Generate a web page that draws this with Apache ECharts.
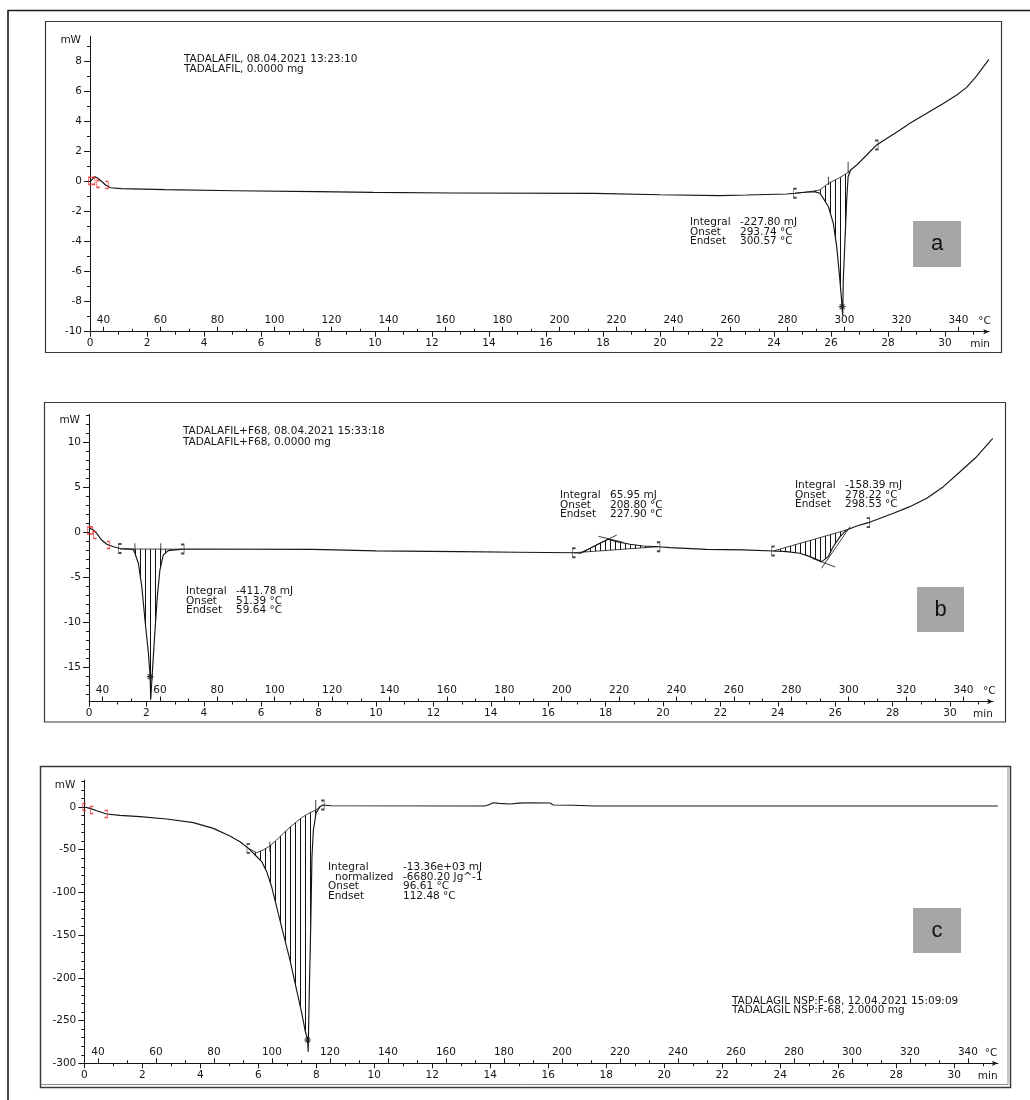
<!DOCTYPE html>
<html>
<head>
<meta charset="utf-8">
<script src="https://cdn.jsdelivr.net/npm/echarts@6/dist/echarts.min.js"></script>
<style>
  html, body { margin: 0; padding: 0; background: #fff; }
  #chart { width: 1030px; height: 1100px; }
</style>
</head>
<body>
<div id="chart"></div>
<script>
// DSC thermograms: heat flow (mW) against time (min); the upper scale gives the furnace temperature.
const T_START = 35.3;   // °C at t = 0 min
const RATE = 10;        // heating rate, K/min

// Tick labels
const timeTickLabels = [0, 2, 4, 6, 8, 10, 12, 14, 16, 18, 20, 22, 24, 26, 28, 30];
const tempTickLabels = [40, 60, 80, 100, 120, 140, 160, 180, 200, 220, 240, 260, 280, 300, 320, 340];
const aPowerTicks = [-10, -8, -6, -4, -2, 0, 2, 4, 6, 8];
const bPowerTicks = [-15, -10, -5, 0, 5, 10];
const cPowerTicks = [-300, -250, -200, -150, -100, -50, 0];

// (a) TADALAFIL — [time min, heat flow mW]
const aCurve = [
  [0, 0], [0.08, 0.15], [0.18, 0.33], [0.3, 0.2], [0.45, -0.05], [0.55, -0.22], [0.72, -0.4],
  [1.1, -0.46], [1.11, -0.5], [2.63, -0.53], [2.64, -0.58], [5.08, -0.6], [5.1, -0.63],
  [7.94, -0.66], [7.96, -0.7], [9.93, -0.71], [9.95, -0.74], [12.68, -0.75], [12.7, -0.78],
  [17.7, -0.78], [17.72, -0.84], [20.0, -0.87], [22.1, -0.93], [23.04, -0.89], [24.44, -0.82],
  [24.74, -0.77], [25.26, -0.67], [25.45, -0.68], [25.61, -0.77], [25.73, -1.11], [25.91, -1.67],
  [26.08, -2.78], [26.2, -4.33], [26.29, -6.11], [26.37, -7.89], [26.41, -8.9], [26.43, -6.55],
  [26.49, -3.89], [26.55, -1.22], [26.6, 0.33], [26.69, 0.78], [26.9, 1.11], [27.25, 1.78],
  [27.6, 2.45], [28.42, 3.45], [28.77, 3.89], [29.36, 4.56], [29.94, 5.22], [30.41, 5.78],
  [30.76, 6.29], [31.11, 7.05], [31.54, 8.16]
];
const aBaseline = [[24.74, -0.77], [25.26, -0.67], [25.61, -0.55], [25.91, -0.11], [26.26, 0.22], [26.55, 0.56], [26.69, 0.78]];
const aRegions = [[24.74, 26.69]];
const aTangents = [[[25.91, 0.33], [25.91, -0.22]], [[26.6, 1.33], [26.6, 0.56]]];
const aOpen = [[24.74, -0.77]];
const aClose = [[27.6, 2.45]];
const aPeaks = [[26.39, -8.33]];
const aStartOpen = [[0, 0.05], [0.29, -0.15]];
const aStartClose = [[0.12, 0.05], [0.59, -0.22]];

// (b) TADALAFIL+F68
const bCurve = [
  [0, 0.2], [0.04, 0.44], [0.15, 0.26], [0.27, -0.11], [0.44, -0.86], [0.62, -1.33], [0.85, -1.6],
  [1.08, -1.8], [1.54, -1.89], [1.6, -2.33], [1.72, -3.44], [1.84, -6.04], [1.95, -9.74],
  [2.07, -13.4], [2.13, -16.04], [2.15, -18.6], [2.22, -14.9], [2.3, -10.86], [2.38, -7.16],
  [2.47, -4.19], [2.59, -2.52], [2.76, -2.04], [3.17, -1.89], [3.26, -1.86], [7.8, -1.9],
  [7.82, -1.98], [10.0, -2.06], [10.05, -2.1], [12.9, -2.15], [12.95, -2.22], [14.96, -2.22],
  [16.9, -2.27], [17.11, -2.33], [17.46, -1.78], [17.8, -1.22], [18.09, -0.78], [18.39, -1.04],
  [18.85, -1.33], [19.31, -1.52], [19.84, -1.6], [20.24, -1.7], [21.52, -1.89], [22.8, -1.96],
  [23.84, -2.08], [24.31, -2.15], [24.77, -2.33], [25.12, -2.7], [25.53, -3.26], [25.76, -2.7],
  [25.93, -1.6], [26.17, -0.48], [26.4, 0.26], [26.75, 0.7], [27.15, 1.07], [28.03, 2.11],
  [28.6, 2.85], [29.19, 3.78], [29.77, 5.07], [30.35, 6.73], [30.93, 8.4], [31.49, 10.44]
];
const bBaselines = [
  [[1.08, -1.85], [3.26, -1.88]],
  [[16.9, -2.27], [19.84, -1.6]],
  [[23.84, -2.08], [26.4, 0.26]]
];
const bRegions = [[1.08, 3.26], [16.9, 19.84], [23.84, 26.4]];
const bTangents = [
  [[1.6, -1.22], [1.6, -2.33]], [[2.5, -1.22], [2.5, -2.33]],
  [[17.11, -2.33], [18.39, -0.3]], [[17.75, -0.45], [18.6, -1.1]],
  [[25.52, -4.0], [26.52, 0.63]], [[25.2, -2.9], [26.0, -3.85]]
];
const bOpen = [[1.08, -1.8], [16.9, -2.27], [23.84, -2.08]];
const bClose = [[3.26, -1.86], [19.84, -1.6], [27.15, 1.07]];
const bPeaks = [[2.13, -16.04]];
const bStartOpen = [[0, 0.2], [0.21, -0.3]];
const bStartClose = [[0.08, 0.2], [0.67, -1.41]];

// (c) TADALAGIL NSP:F-68
const cCurve = [
  [0, 0], [0.2, -1.6], [0.43, -4.3], [0.77, -8.2], [1.23, -9.8], [1.92, -11.3], [2.84, -14],
  [3.76, -18.3], [4.45, -25], [5.02, -34], [5.37, -40.6], [5.66, -48.4], [5.89, -56.2],
  [6.12, -64], [6.29, -75.7], [6.46, -93.3], [6.63, -116.7], [6.86, -147.8], [7.09, -179],
  [7.32, -214], [7.5, -241.5], [7.61, -261], [7.7, -272.7], [7.72, -286.4], [7.76, -214],
  [7.81, -136], [7.85, -58], [7.9, -27], [7.99, -7.4], [8.13, 0.4], [8.22, 2.3], [8.5, 1.5],
  [13.8, 1.2], [13.93, 2.3], [14.1, 5], [14.3, 4.3], [14.68, 3.5], [15.0, 4.5], [15.37, 5],
  [16.06, 4.7], [16.17, 2.3], [16.86, 2], [17.61, 1.2], [31.5, 1.2]
];
const cBaseline = [
  [5.66, -48.4], [5.94, -53.5], [6.17, -50.3], [6.4, -45.6], [6.63, -38.6], [6.86, -30.8],
  [7.09, -23.8], [7.32, -17.2], [7.55, -11.3], [7.78, -6.6], [7.99, -3.5], [8.13, 0.4]
];
const cRegions = [[5.66, 8.13]];
const cTangents = [[[6.4, -40.6], [6.4, -52.3]], [[7.98, 8.2], [7.98, -7.4]]];
const cOpen = [[5.66, -48.4]];
const cClose = [[8.22, 2.3]];
const cPeaks = [[7.7, -272.7]];
const cStartOpen = [[0, 0], [0.26, -3.5]];
const cStartClose = [[0.75, -8.2]];

// ---------------------------------------------------------------------------
const FONT = '"DejaVu Sans", Verdana, sans-serif';
const FS = 10.5;
const INK = '#161616';
const RED = '#e3211c';

function steps(a, b, step, skip) {
  const out = [];
  for (let v = a; v <= b + 1e-9; v += step) {
    const r = Math.round(v * 100) / 100;
    if (!skip || !skip(r)) out.push(r);
  }
  return out;
}
const timeMinor = steps(1, 31, 2);
const tempMinor = steps(50, 330, 20);

// vertical hatching used inside the integrated peak areas
const hatchCanvas = document.createElement('canvas');
hatchCanvas.width = 5; hatchCanvas.height = 4;
(function () {
  const g = hatchCanvas.getContext('2d');
  g.fillStyle = '#111';
  g.fillRect(0, 0, 1, 4);
})();
const HATCH = { image: hatchCanvas, repeat: 'repeat' };

const panels = [
  {
    layout: { left: 90, top: 36.2, width: 899.2, height: 295.5, tMax: 31.55, yMin: -10, yMax: 9.7,
              minGap: -19, degGap: -11, mwGap: -4 },
    curve: aCurve, baselines: [aBaseline], regions: aRegions.map(r => [r[0], r[1], aBaseline]),
    tangents: aTangents, open: aOpen, close: aClose, peaks: aPeaks,
    startOpen: aStartOpen, startClose: aStartClose,
    powerTicks: aPowerTicks, powerMinor: steps(-9, 9, 2)
  },
  {
    layout: { left: 89, top: 414.4, width: 904.05, height: 287.1, tMax: 31.5, yMin: -18.8, yMax: 13.1,
              minGap: -20, degGap: -10, mwGap: -5.6 },
    curve: bCurve, baselines: bBaselines, regions: bRegions.map((r, k) => [r[0], r[1], bBaselines[k]]),
    tangents: bTangents, open: bOpen, close: bClose, peaks: bPeaks,
    startOpen: bStartOpen, startClose: bStartClose,
    powerTicks: bPowerTicks, powerMinor: steps(-18, 13, 1, v => v % 5 === 0)
  },
  {
    layout: { left: 84.3, top: 780, width: 913.5, height: 283.3, tMax: 31.5, yMin: -300, yMax: 31.6,
              minGap: -20, degGap: -13, mwGap: -5 },
    curve: cCurve, baselines: [cBaseline], regions: cRegions.map(r => [r[0], r[1], cBaseline]),
    tangents: cTangents, open: cOpen, close: cClose, peaks: cPeaks,
    startOpen: cStartOpen, startClose: cStartClose,
    powerTicks: cPowerTicks, powerMinor: steps(-290, 30, 10, v => v % 50 === 0)
  }
];

const labelStyle = { color: INK, fontSize: FS, fontFamily: FONT };
const OPEN_SYM = 'path://M4,0 L0,0 L0,12 L4,12';
const CLOSE_SYM = 'path://M0,0 L4,0 L4,12 L0,12';
const STAR_SYM = 'path://M0,5 L10,5 M5,0 L5,10 M1.5,1.5 L8.5,8.5 M8.5,1.5 L1.5,8.5';

const grid = [], xAxis = [], yAxis = [], series = [];

panels.forEach((p, i) => {
  const L = p.layout;
  grid.push({ left: L.left, top: L.top, width: L.width, height: L.height, containLabel: false });

  const xi = xAxis.length, yi = yAxis.length;
  const noSplit = { show: false };
  // time (min) – major ticks with labels
  xAxis.push({
    gridIndex: i, type: 'value', min: 0, max: L.tMax, position: 'bottom',
    axisLine: { show: true, onZero: false, lineStyle: { color: INK, width: 1 },
                symbol: ['none', 'arrow'], symbolSize: [4, 6] },
    axisTick: { show: true, length: 5, customValues: timeTickLabels, lineStyle: { color: INK } },
    axisLabel: Object.assign({ show: true, margin: 6, customValues: timeTickLabels }, labelStyle),
    splitLine: noSplit,
    name: 'min', nameLocation: 'end', nameGap: L.minGap,
    nameTextStyle: Object.assign({ align: 'left', verticalAlign: 'top', padding: [7, 0, 0, 0] }, labelStyle)
  });
  // time – minor ticks
  xAxis.push({
    gridIndex: i, type: 'value', min: 0, max: L.tMax, position: 'bottom',
    axisLine: { show: false, onZero: false },
    axisTick: { show: true, length: 3, customValues: timeMinor, lineStyle: { color: INK } },
    axisLabel: { show: false }, splitLine: noSplit
  });
  // temperature (°C) – major ticks with labels, drawn above the axis line
  xAxis.push({
    gridIndex: i, type: 'value', min: T_START, max: T_START + RATE * L.tMax, position: 'bottom',
    axisLine: { show: false, onZero: false },
    axisTick: { show: true, inside: true, length: 5, customValues: tempTickLabels, lineStyle: { color: INK } },
    axisLabel: Object.assign({ show: true, inside: true, margin: 6, customValues: tempTickLabels }, labelStyle),
    splitLine: noSplit,
    name: '°C', nameLocation: 'end', nameGap: L.degGap,
    nameTextStyle: Object.assign({ align: 'left', verticalAlign: 'bottom', padding: [0, 0, 5, 0] }, labelStyle)
  });
  // temperature – minor ticks
  xAxis.push({
    gridIndex: i, type: 'value', min: T_START, max: T_START + RATE * L.tMax, position: 'bottom',
    axisLine: { show: false, onZero: false },
    axisTick: { show: true, inside: true, length: 3, customValues: tempMinor, lineStyle: { color: INK } },
    axisLabel: { show: false }, splitLine: noSplit
  });
  // heat flow (mW)
  yAxis.push({
    gridIndex: i, type: 'value', min: L.yMin, max: L.yMax, position: 'left',
    axisLine: { show: true, onZero: false, lineStyle: { color: INK, width: 1 } },
    axisTick: { show: true, length: 6, customValues: p.powerTicks, lineStyle: { color: INK } },
    axisLabel: Object.assign({ show: true, margin: 8, customValues: p.powerTicks }, labelStyle),
    splitLine: noSplit,
    name: 'mW', nameLocation: 'end', nameGap: L.mwGap,
    nameTextStyle: Object.assign({ align: 'right', verticalAlign: 'middle', padding: [0, 9, 0, 0] }, labelStyle)
  });
  yAxis.push({
    gridIndex: i, type: 'value', min: L.yMin, max: L.yMax, position: 'left',
    axisLine: { show: false, onZero: false },
    axisTick: { show: true, length: 3, customValues: p.powerMinor, lineStyle: { color: INK } },
    axisLabel: { show: false }, splitLine: noSplit
  });

  const on = { xAxisIndex: xi, yAxisIndex: yi };

  // hatched integration areas between the signal and its baseline
  p.regions.forEach(([from, to, base]) => {
    const poly = p.curve.filter(pt => pt[0] >= from - 1e-9 && pt[0] <= to + 1e-9)
      .concat(base.slice().reverse());
    series.push(Object.assign({
      type: 'custom', coordinateSystem: 'cartesian2d', silent: true, z: 1,
      data: [[from, base[0][1]]],
      renderItem: (params, api) => ({
        type: 'polygon',
        shape: { points: poly.map(pt => api.coord(pt)) },
        style: { fill: HATCH, stroke: null }
      })
    }, on));
  });

  // baselines and construction lines
  series.push(Object.assign({
    type: 'lines', coordinateSystem: 'cartesian2d', polyline: true, silent: true, z: 2,
    data: p.baselines.concat(p.tangents).map(c => ({ coords: c })),
    lineStyle: { color: INK, width: 0.9, opacity: 0.9 }
  }, on));

  // measured signal
  series.push(Object.assign({
    type: 'line', data: p.curve, showSymbol: false, silent: true, z: 3,
    lineStyle: { color: INK, width: 1.15 }
  }, on));

  // integration limits, peak markers, start markers
  const marker = (data, symbol, size, color) => Object.assign({
    type: 'scatter', data, symbol, symbolSize: size, silent: true, z: 4,
    itemStyle: { color: 'none', borderColor: color, borderWidth: 1.1 }
  }, on);
  series.push(marker(p.open, OPEN_SYM, [3, 9], INK));
  series.push(marker(p.close, CLOSE_SYM, [3, 9], INK));
  series.push(marker(p.peaks, STAR_SYM, 7, INK));
  series.push(marker(p.startOpen, OPEN_SYM, [3, 7], RED));
  series.push(marker(p.startClose, CLOSE_SYM, [3, 7], RED));
});

// ---------------------------------------------------------------------------
// frames, panel tags and instrument annotations
function txt(x, y, s) {
  return { type: 'text', z: 10, silent: true,
    style: { x, y, text: s, fill: INK, font: FS + 'px ' + FONT, verticalAlign: 'middle', align: 'left' } };
}
function block(x1, x2, y0, rows) {
  const out = [];
  rows.forEach((r, k) => {
    out.push(txt(r[2] !== undefined ? r[2] : x1, y0 + k * 9.8, r[0]));
    out.push(txt(x2, y0 + k * 9.8, r[1]));
  });
  return out;
}
function tag(x, y, w, h, s) {
  return [
    { type: 'rect', z: 5, silent: true, shape: { x, y, width: w, height: h }, style: { fill: '#a6a6a6' } },
    { type: 'text', z: 6, silent: true,
      style: { x: x + w / 2, y: y + h / 2, text: s, fill: '#111', font: '22px "Liberation Sans", Arial, sans-serif',
               align: 'center', verticalAlign: 'middle' } }
  ];
}
const boxStyle = { stroke: '#3a3a3a', lineWidth: 1.2, fill: 'none' };
const elements = [
  { type: 'polyline', z: 0, silent: true, shape: { points: [[8, 1100], [8, 10.5], [1030, 10.5]] },
    style: { stroke: '#1a1a1a', lineWidth: 1.6, fill: 'none' } },
  { type: 'rect', z: 0, silent: true, shape: { x: 45.5, y: 21.5, width: 956, height: 331 }, style: boxStyle },
  { type: 'rect', z: 0, silent: true, shape: { x: 44.5, y: 402.5, width: 961, height: 319.5 }, style: boxStyle },
  { type: 'rect', z: 0, silent: true, shape: { x: 40.5, y: 766.5, width: 970, height: 321 },
    style: { stroke: '#3a3a3a', lineWidth: 1.5, fill: 'none' } },
  { type: 'polyline', z: 0, silent: true, shape: { points: [[41, 1084.5], [1008, 1084.5], [1008, 767]] },
    style: { stroke: '#8a8a8a', lineWidth: 1, fill: 'none' } },

  txt(184, 59, 'TADALAFIL, 08.04.2021 13:23:10'),
  txt(184, 69, 'TADALAFIL, 0.0000 mg'),
  ...block(690, 740, 222, [['Integral', '-227.80 mJ'], ['Onset', '293.74 °C'], ['Endset', '300.57 °C']]),

  txt(183, 431.5, 'TADALAFIL+F68, 08.04.2021 15:33:18'),
  txt(183, 442, 'TADALAFIL+F68, 0.0000 mg'),
  ...block(186, 236, 591, [['Integral', '-411.78 mJ'], ['Onset', '51.39 °C'], ['Endset', '59.64 °C']]),
  ...block(560, 610, 495, [['Integral', '65.95 mJ'], ['Onset', '208.80 °C'], ['Endset', '227.90 °C']]),
  ...block(795, 845, 485, [['Integral', '-158.39 mJ'], ['Onset', '278.22 °C'], ['Endset', '298.53 °C']]),

  ...block(328, 403, 867, [['Integral', '-13.36e+03 mJ'], ['normalized', '-6680.20 Jg^-1', 335],
                           ['Onset', '96.61 °C'], ['Endset', '112.48 °C']]),
  txt(732, 1001, 'TADALAGIL NSP:F-68, 12.04.2021 15:09:09'),
  txt(732, 1010.5, 'TADALAGIL NSP:F-68, 2.0000 mg'),

  ...tag(913, 221, 48, 46, 'a'),
  ...tag(917, 587, 47, 45, 'b'),
  ...tag(913, 908, 48, 45, 'c')
];

const chart = echarts.init(document.getElementById('chart'), null, { renderer: 'canvas' });
chart.setOption({
  animation: false,
  backgroundColor: '#ffffff',
  textStyle: { fontFamily: FONT },
  grid, xAxis, yAxis, series,
  graphic: { elements }
});
</script>
</body>
</html>
